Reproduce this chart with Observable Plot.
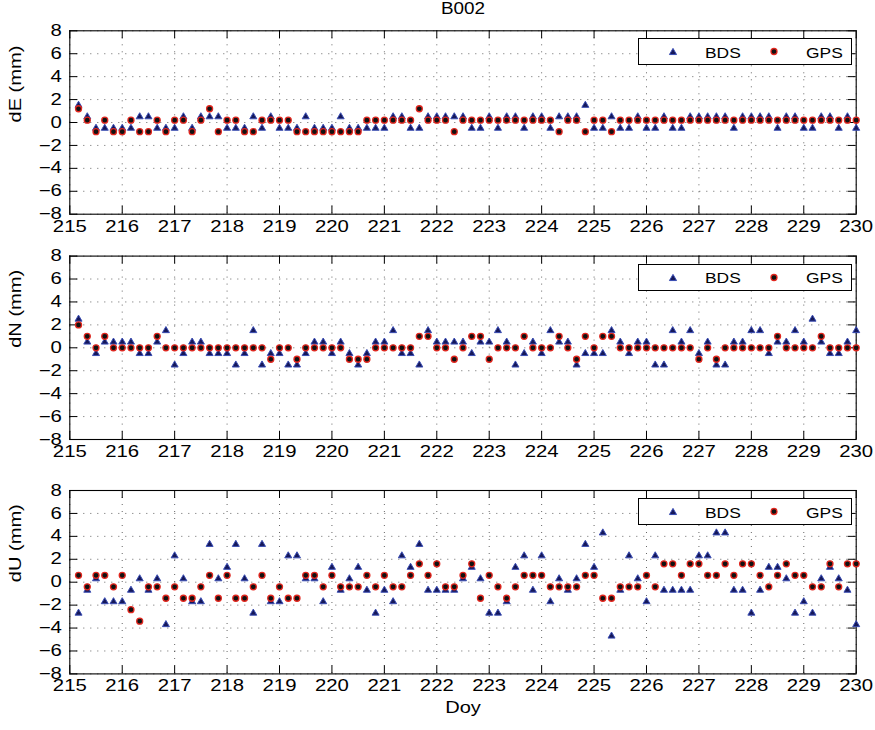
<!DOCTYPE html>
<html>
<head>
<meta charset="utf-8">
<script src="https://cdn.jsdelivr.net/npm/d3@7"></script>
<script src="https://cdn.jsdelivr.net/npm/@observablehq/plot@0.6"></script>
<style>
  body { margin: 0; background: #fff; }
  #chart { position: relative; width: 875px; height: 730px; font-family: "Liberation Sans", Arial, Helvetica, sans-serif; }
  .panel { position: absolute; left: 0; }
  .legend { position: absolute; box-sizing: border-box; left: 638px; width: 214px; height: 27px; border: 1px solid #000; background: #fff; font-size: 15px; color: #000; }
  .legend span { position: absolute; top: 50%; transform: translateY(-50%) scaleX(1.16); transform-origin: left center; line-height: 1; }
  .legend svg { position: absolute; top: 0; }
</style>
</head>
<body>
<div id="chart"></div>
<script>
// Station B002: residuals in E, N, U (mm), BDS vs GPS, 4-hourly epochs
const station = "B002";
const xTitle = "Doy";
const dayTicks = d3.range(215, 231);
const mmTicks = d3.range(-8, 9, 2);
const epochs = d3.range(1, 91).map(i => 215 + i / 6);

const bdsE = [1.5,0.5,-0.5,-0.5,-0.5,-0.5,-0.5,0.5,0.5,-0.5,
  -0.5,-0.5,0.5,-0.5,0.5,0.5,0.5,-0.5,-0.5,-0.5,
  0.5,-0.5,0.5,-0.5,-0.5,-0.5,0.5,-0.5,-0.5,-0.5,
  0.5,-0.5,-0.5,-0.5,-0.5,-0.5,0.5,0.5,-0.5,-0.5,
  0.5,0.5,0.5,0.5,0.5,-0.5,-0.5,0.5,-0.5,0.5,
  0.5,-0.5,0.5,0.5,-0.5,0.5,0.5,0.5,1.5,-0.5,
  -0.5,0.5,-0.5,-0.5,0.5,-0.5,-0.5,0.5,-0.5,-0.5,
  0.5,0.5,0.5,0.5,0.5,-0.5,0.5,0.5,0.5,0.5,
  -0.5,0.5,0.5,-0.5,-0.5,0.5,0.5,-0.5,0.5,-0.5];
const gpsE = [1.2,0.2,-0.8,0.2,-0.8,-0.8,0.2,-0.8,-0.8,0.2,
  -0.8,0.2,0.2,-0.8,0.2,1.2,-0.8,0.2,0.2,-0.8,
  -0.8,0.2,0.2,0.2,0.2,-0.8,-0.8,-0.8,-0.8,-0.8,
  -0.8,-0.8,-0.8,0.2,0.2,0.2,0.2,0.2,0.2,1.2,
  0.2,0.2,0.2,-0.8,0.2,0.2,0.2,0.2,0.2,0.2,
  0.2,0.2,0.2,0.2,0.2,-0.8,0.2,0.2,-0.8,0.2,
  0.2,-0.8,0.2,0.2,0.2,0.2,0.2,0.2,0.2,0.2,
  0.2,0.2,0.2,0.2,0.2,0.2,0.2,0.2,0.2,0.2,
  0.2,0.2,0.2,0.2,0.2,0.2,0.2,0.2,0.2,0.2];

const bdsN = [2.5,0.5,-0.5,0.5,0.5,0.5,0.5,-0.5,-0.5,0.5,
  1.5,-1.5,-0.5,0.5,0.5,-0.5,-0.5,-0.5,-1.5,-0.5,
  1.5,-1.5,-0.5,-0.5,-1.5,-1.5,-0.5,0.5,0.5,-0.5,
  0.5,-0.5,-1.5,-0.5,0.5,0.5,1.5,-0.5,-0.5,-1.5,
  1.5,0.5,0.5,0.5,0.5,-0.5,0.5,0.5,1.5,0.5,
  -1.5,-0.5,0.5,-0.5,1.5,0.5,0.5,-1.5,-0.5,-0.5,
  -0.5,1.5,0.5,-0.5,0.5,0.5,-1.5,-1.5,1.5,0.5,
  1.5,-0.5,0.5,-1.5,-1.5,0.5,0.5,1.5,1.5,-0.5,
  0.5,0.5,1.5,0.5,2.5,0.5,-0.5,-0.5,0.5,1.5];
const gpsN = [2,1,0,1,0,0,0,0,0,1,
  0,0,0,0,0,0,0,0,0,0,
  0,0,-1,0,0,-1,0,0,0,0,
  0,-1,-1,-1,0,0,0,0,0,1,
  1,0,0,-1,0,1,1,-1,0,0,
  0,1,0,0,0,1,0,-1,1,0,
  1,1,0,0,0,0,0,0,0,0,
  0,-1,0,-1,0,0,0,0,0,0,
  1,0,0,0,0,1,0,0,0,0];

const bdsU = [-2.7,-0.7,0.3,-1.7,-1.7,-1.7,-0.7,0.3,-0.7,0.3,
  -3.7,2.3,0.3,-1.7,-1.7,3.3,0.3,1.3,3.3,0.3,
  -2.7,3.3,-1.7,-1.7,2.3,2.3,0.3,0.3,-1.7,1.3,
  -0.7,0.3,1.3,-0.7,-2.7,-0.7,-1.7,2.3,1.3,3.3,
  -0.7,-0.7,-0.7,-0.7,0.3,1.3,0.3,-2.7,-2.7,-1.7,
  1.3,2.3,-0.7,2.3,-1.7,0.3,-0.7,0.3,3.3,1.3,
  4.3,-4.7,-0.7,2.3,0.3,-1.7,2.3,-0.7,-0.7,-0.7,
  -0.7,2.3,2.3,4.3,4.3,-0.7,-0.7,-2.7,-0.7,1.3,
  1.3,0.3,-2.7,-1.7,-2.7,0.3,1.3,0.3,-0.7,-3.7];
const gpsU = [0.6,-0.4,0.6,0.6,-0.4,0.6,-2.4,-3.4,-0.4,-0.4,
  -1.4,-0.4,-1.4,-1.4,-0.4,0.6,-1.4,0.6,-1.4,-1.4,
  -0.4,0.6,-1.4,-0.4,-1.4,-1.4,0.6,0.6,-0.4,0.6,
  -0.4,-0.4,-0.4,0.6,-0.4,0.6,-0.4,-0.4,0.6,1.6,
  0.6,1.6,-0.4,-0.4,0.6,1.6,-1.4,0.6,-0.4,-1.4,
  -0.4,0.6,0.6,0.6,-0.4,-0.4,-0.4,-0.4,0.6,0.6,
  -1.4,-1.4,-0.4,-0.4,-0.4,0.6,-0.4,1.6,1.6,0.6,
  1.6,1.6,0.6,0.6,1.6,0.6,1.6,1.6,0.6,-0.4,
  0.6,1.6,0.6,0.6,-0.4,-0.4,1.6,-0.4,1.6,1.6];

const systems = ["BDS", "GPS"];
const bdsStyle = {fill: "#15185a", stroke: "#3a4db4"};
const gpsStyle = {fill: "#111111", stroke: "#e2261e"};

const W = 875, L = 69.3, R = 855.7, FH = 183.4, TICK = 8;
const fmt = d => d < 0 ? "\u2212" + (-d) : String(d);

function panel({bds, gps, label, top, frameTop, height, title, xlab}) {
  const rows = vals => vals.map((v, i) => ({doy: epochs[i], v}));
  const innerW = R - L;
  const marks = [
    Plot.gridX(dayTicks, {stroke: "#000", strokeOpacity: 0.6, strokeDasharray: "1,6"}),
    Plot.gridY(mmTicks, {stroke: "#000", strokeOpacity: 0.6, strokeDasharray: "1,6"}),
    Plot.ruleX(dayTicks, {x: d => d, insetTop: FH - TICK, stroke: "#000"}),
    Plot.ruleX(dayTicks, {x: d => d, insetBottom: FH - TICK, stroke: "#000"}),
    Plot.ruleY(mmTicks, {y: d => d, insetRight: innerW - TICK, stroke: "#000"}),
    Plot.ruleY(mmTicks, {y: d => d, insetLeft: innerW - TICK, stroke: "#000"}),
    Plot.frame({stroke: "#000", strokeWidth: 1.1}),
    Plot.dot(rows(bds), {x: "doy", y: "v", symbol: "triangle", r: 2.6, strokeWidth: 1, ...bdsStyle}),
    Plot.dot(rows(gps), {x: "doy", y: "v", symbol: "circle", r: 3, strokeWidth: 1.3, ...gpsStyle}),
    Plot.axisX(dayTicks, {tickSize: 0, tickPadding: 6, fontSize: 16, tickFormat: fmt, label: null}),
    Plot.axisY(mmTicks, {tickSize: 0, tickPadding: 8, fontSize: 16, tickFormat: fmt, label: null}),
    Plot.text([label], {frameAnchor: "left", rotate: -90, dx: -54, fontSize: 17})
  ];
  if (title) marks.push(Plot.text([title], {frameAnchor: "top", lineAnchor: "middle", dy: -22, fontSize: 16}));
  if (xlab) marks.push(Plot.text([xlab], {frameAnchor: "bottom", lineAnchor: "middle", dy: 34, fontSize: 17}));
  const svg = Plot.plot({
    width: W, height,
    marginLeft: L, marginRight: W - R,
    marginTop: frameTop, marginBottom: height - frameTop - FH,
    style: {fontFamily: '"Liberation Sans", Arial, Helvetica, sans-serif', fontSize: "16px", color: "#000", background: "transparent", overflow: "visible"},
    x: {domain: [215, 230], label: null},
    y: {domain: [-8, 8], label: null},
    marks
  });
  const holder = document.createElement("div");
  holder.className = "panel";
  holder.style.top = top + "px";
  holder.appendChild(svg);
  return {holder, svg, legendTop: top + frameTop + 8};
}

function legend(topPx) {
  const box = d3.create("div").attr("class", "legend").style("top", topPx + "px");
  const s1 = box.append("svg").attr("width", 20).attr("height", 25).style("left", "24px");
  s1.append("path").attr("d", d3.symbol(d3.symbolTriangle, 22)()).attr("transform", "translate(10,13.5)")
    .attr("fill", bdsStyle.fill).attr("stroke", bdsStyle.stroke).attr("stroke-width", 1);
  box.append("span").style("left", "66px").text(systems[0]);
  const s2 = box.append("svg").attr("width", 20).attr("height", 25).style("left", "125px");
  s2.append("circle").attr("cx", 10).attr("cy", 12.5).attr("r", 3)
    .attr("fill", gpsStyle.fill).attr("stroke", gpsStyle.stroke).attr("stroke-width", 1.3);
  box.append("span").style("left", "167px").text(systems[1]);
  return box.node();
}

// The typeface of this figure runs wider than Liberation Sans: widen each label along its baseline
function widen(svg) {
  svg.querySelectorAll("text").forEach(t => {
    const tick = t.closest('g[aria-label$="tick label"]');
    const k = tick ? 1.27 : 1.18;
    const len = t.getComputedTextLength();
    if (len > 0) {
      t.setAttribute("textLength", (len * k).toFixed(2));
      t.setAttribute("lengthAdjust", "spacingAndGlyphs");
    }
  });
}

const chart = document.getElementById("chart");
const panels = [
  {bds: bdsE, gps: gpsE, label: "dE (mm)", top: 0, frameTop: 30.3, height: 235, title: station},
  {bds: bdsN, gps: gpsN, label: "dN (mm)", top: 235, frameTop: 20.6, height: 229},
  {bds: bdsU, gps: gpsU, label: "dU (mm)", top: 464, frameTop: 26, height: 266, xlab: xTitle}
];
for (const p of panels) {
  const {holder, svg, legendTop} = panel(p);
  chart.appendChild(holder);
  chart.appendChild(legend(legendTop));
  widen(svg);
}
</script>
</body>
</html>
